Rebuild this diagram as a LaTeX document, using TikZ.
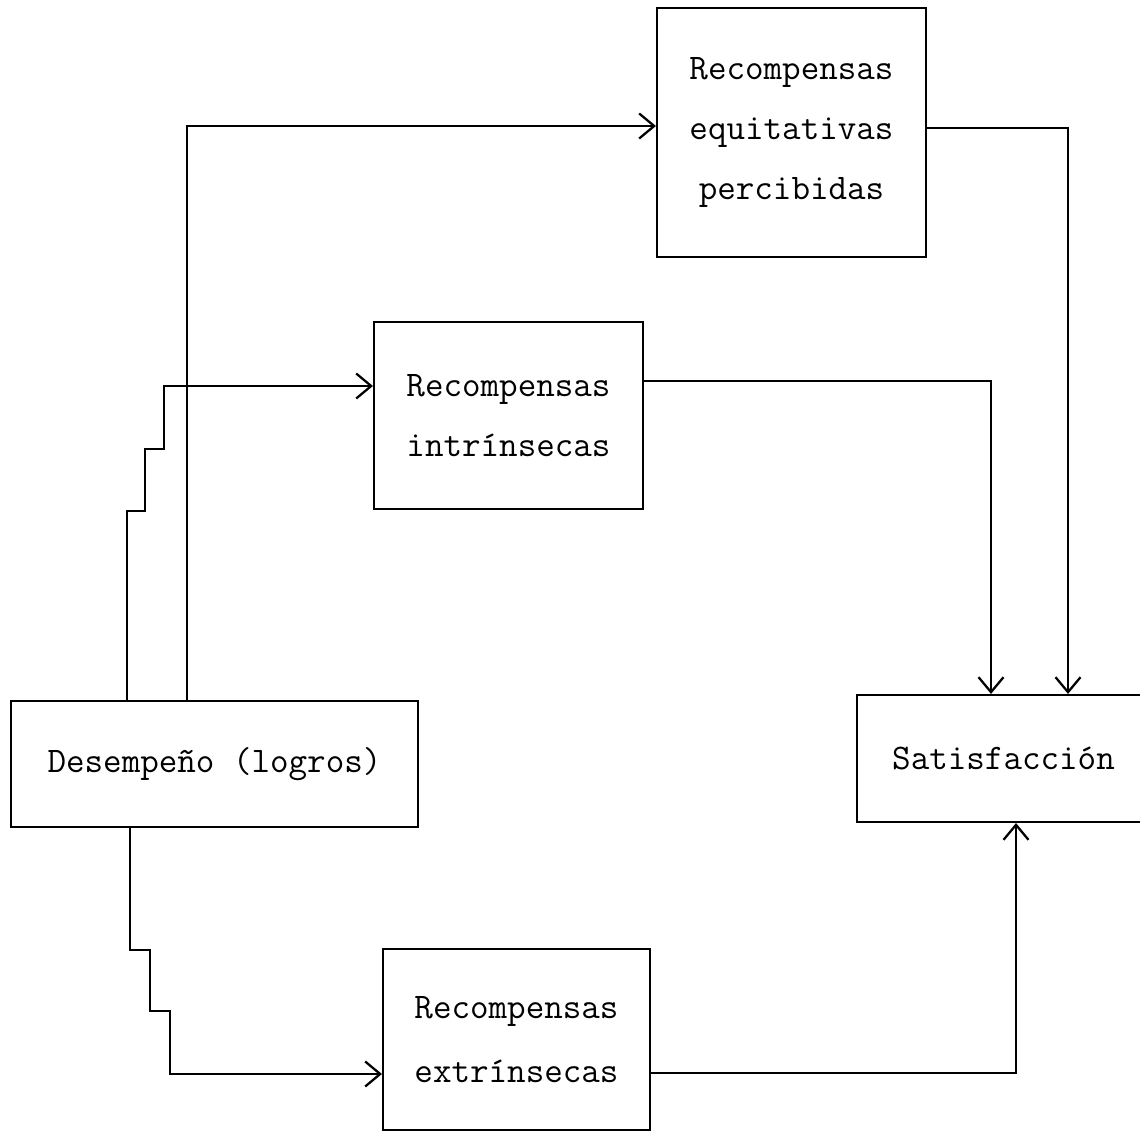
\documentclass[tikz,border=0pt]{standalone}
\usetikzlibrary{arrows.meta}
\begin{document}
\begin{tikzpicture}[x=0.02cm,y=-0.02cm,
  ln/.style={line width=1.2pt},
  arr/.style={ln,-{Straight Barb[length=3mm,width=5mm,line width=1.3pt]}},
  box/.style={draw,line width=1.2pt,inner sep=0pt,align=center,
    font=\ttfamily\fontsize{20.5}{34}\selectfont}]
\clip (0,0) rectangle (1140,1138);
\useasboundingbox (0,0) rectangle (1140,1138);
% boxes
\node[box,minimum width=8.14cm,minimum height=2.52cm] (des) at (214.5,764) {Desempeño (logros)};
\node[box,minimum width=5.38cm,minimum height=4.98cm] (equi) at (791.5,132.5) {Recompensas\\equitativas\\percibidas};
\node[box,minimum width=5.38cm,minimum height=3.74cm] (intr) at (508.5,415.5) {Recompensas\\intrínsecas};
\node[box,minimum width=5.34cm,minimum height=3.62cm] (extr) at (516.5,1039.5) {Recompensas\\[2pt]extrínsecas};
\node[box,minimum width=5.86cm,minimum height=2.54cm] (sat) at (1003.5,758.5) {Satisfacción};
% helper coordinates
\coordinate (a1) at (187,126);
\coordinate (s0) at (127,0);
\coordinate (s1) at (145,511);
\coordinate (s2) at (164,449);
\coordinate (s3) at (0,386);
\coordinate (e0) at (130,0);
\coordinate (e1) at (150,950);
\coordinate (e2) at (170,1011);
\coordinate (e3) at (0,1074);
\coordinate (o1) at (1068,128);
\coordinate (o2) at (991,381);
\coordinate (o3) at (1016,1073);
% connectors
\draw[arr] (des.north -| a1) -- (a1) -- (a1 -| equi.west);
\draw[arr] (des.north -| s0) |- (s1) |- (s2) |- (intr.west |- s3);
\draw[arr] (des.south -| e0) |- (e1) |- (e2) |- (extr.west |- e3);
\draw[arr] (equi.east |- o1) -- (o1) -- (o1 |- sat.north);
\draw[arr] (intr.east |- o2) -- (o2) -- (o2 |- sat.north);
\draw[arr] (extr.east |- o3) -- (o3) -- (o3 |- sat.south);
\end{tikzpicture}
\end{document}
